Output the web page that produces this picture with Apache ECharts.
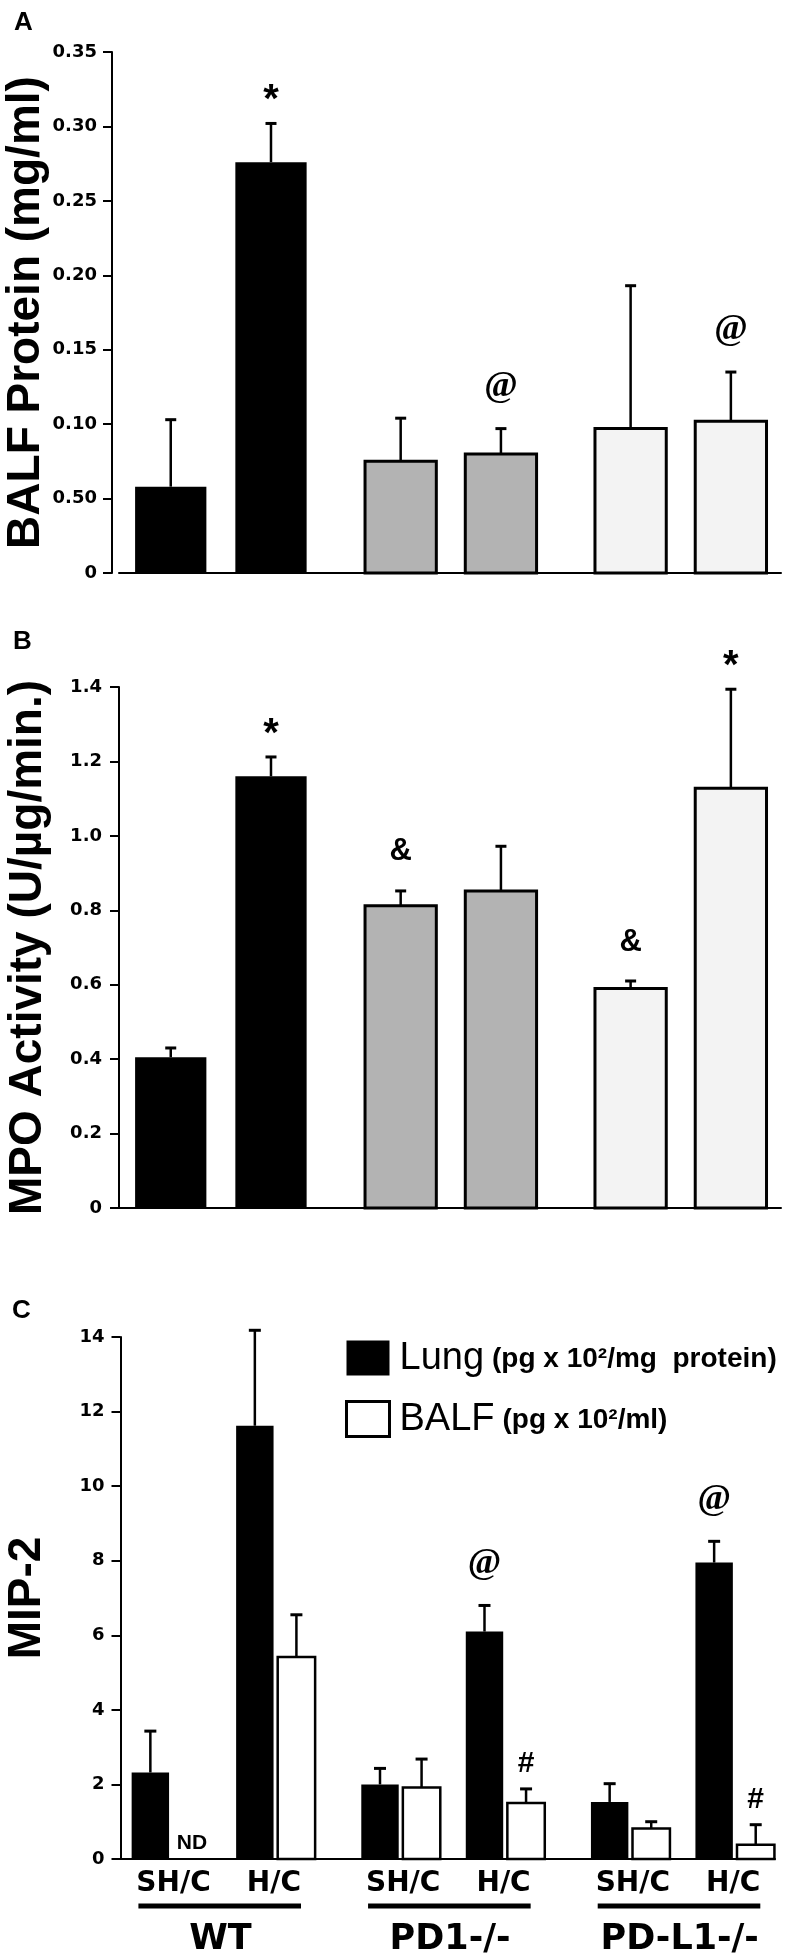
<!DOCTYPE html>
<html><head><meta charset="utf-8">
<script src="https://cdn.jsdelivr.net/npm/echarts@6/dist/echarts.min.js"></script>
<style>html,body{margin:0;padding:0;background:#fff}#chart{width:786px;height:1959px}</style>
</head><body><div id="chart"></div>
<script>
// ---------------- data ----------------
const groups = ['WT', 'PD1-/-', 'PD-L1-/-'];
const conditions = ['SH/C', 'H/C'];

// Panel A: BALF protein (mg/ml); order: WT SH/C, WT H/C, PD1 SH/C, PD1 H/C, PD-L1 SH/C, PD-L1 H/C
const proteinMean = [0.058, 0.276, 0.075, 0.080, 0.097, 0.102];
const proteinSem  = [0.045, 0.026, 0.029, 0.017, 0.096, 0.033];
const proteinMarks = ['', '*', '', '@', '', '@'];
const proteinTicks = ['0', '0.50', '0.10', '0.15', '0.20', '0.25', '0.30', '0.35'];

// Panel B: MPO activity (U/µg/min.)
const mpoMean = [0.405, 1.160, 0.812, 0.852, 0.590, 1.128];
const mpoSem  = [0.025, 0.052, 0.040, 0.120, 0.020, 0.266];
const mpoMarks = ['', '*', '&', '', '&', '*'];
const mpoTicks = ['0', '0.2', '0.4', '0.6', '0.8', '1.0', '1.2', '1.4'];

// Panel C: MIP-2; order: WT SH/C, WT H/C, PD1 SH/C, PD1 H/C, PD-L1 SH/C, PD-L1 H/C
const lungMean = [2.32, 11.62, 2.00, 6.10, 1.53, 7.95];
const lungSem  = [1.11, 2.56, 0.43, 0.70, 0.49, 0.57];
const lungMarks = ['', '', '', '@', '', '@'];
const balfMean = [null, 5.42, 1.92, 1.50, 0.82, 0.38];
const balfSem  = [null, 1.13, 0.76, 0.38, 0.18, 0.54];
const balfMarks = ['ND', '', '', '#', '', '#'];
const mipTicks = ['0', '2', '4', '6', '8', '10', '12', '14'];

const measures = ['Lung', 'BALF'];
const measureUnits = ['(pg x 10²/mg  protein)', '(pg x 10²/ml)'];

// ---------------- styles ----------------
const SANS = 'Liberation Sans';
const WIDE = 'DejaVu Sans';
const genotypeFill = ['#000000', '#b3b3b3', '#f3f3f3'];
const measureFill = ['#000000', '#ffffff'];
const markStyle = {
  '*': {family: SANS, size: 40, lift: 22},
  '@': {family: 'Liberation Serif', size: 36, lift: 42},
  '&': {family: SANS, size: 31, lift: 39},
  '#': {family: SANS, size: 30, lift: 25}
};

function markText(ch, x, yTop) {
  const s = markStyle[ch];
  return {type: 'text', x: x, y: yTop - s.lift, z2: 5,
    style: {text: ch, fill: '#000', fontFamily: s.family, fontWeight: 'bold', fontSize: s.size,
            align: 'center', verticalAlign: 'middle'}};
}

function barGroup(api, xc, m, s, widthData, fill, border, capHalf) {
  const base = api.coord([xc, 0]);
  const top = api.coord([xc, m]);
  const et = api.coord([xc, m + s]);
  const w = api.size([widthData, 0])[0];
  return [
    {type: 'line', shape: {x1: top[0], y1: top[1], x2: et[0], y2: et[1]}, style: {stroke: '#000', lineWidth: 2.5}},
    {type: 'line', shape: {x1: et[0] - capHalf, y1: et[1], x2: et[0] + capHalf, y2: et[1]}, style: {stroke: '#000', lineWidth: 3}},
    {type: 'rect', shape: {x: base[0] - w / 2, y: top[1], width: w, height: base[1] - top[1]},
     style: {fill: fill, stroke: border > 0 ? '#000' : null, lineWidth: border}}
  ];
}

// Panels A & B: two bars (SH/C, H/C) per genotype
const PAIR_OFF = 0.218, BAR_W_AB = 0.31;
function pairedSeries(idx, mean, sem, marks) {
  return {
    type: 'custom', name: 'panel' + idx, xAxisIndex: idx, yAxisIndex: idx, clip: false,
    encode: {x: 0, y: 2},
    data: mean.map((m, i) => [Math.floor(i / 2), i % 2, m, sem[i]]),
    renderItem(params, api) {
      const g = api.value(0), c = api.value(1), m = api.value(2), s = api.value(3);
      const xc = g + (c === 0 ? -PAIR_OFF : PAIR_OFF);
      const ch = barGroup(api, xc, m, s, BAR_W_AB, genotypeFill[g], g === 0 ? 0 : 3, 5.5);
      const mk = marks[params.dataIndex];
      if (mk) { const et = api.coord([xc, m + s]); ch.push(markText(mk, et[0], et[1])); }
      return {type: 'group', children: ch};
    }
  };
}

// Panel C: Lung & BALF bars, SH/C and H/C per genotype
const COND_OFF = 0.2275, MEAS_OFF = 0.0905, BAR_W_C = 0.163;
function mipSeries(meas, mean, sem, marks) {
  return {
    type: 'custom', name: measures[meas], xAxisIndex: 2, yAxisIndex: 2, clip: false,
    itemStyle: {color: measureFill[meas], borderColor: '#000'},
    encode: {x: 0, y: 2},
    data: mean.map((m, i) => [Math.floor(i / 2), i % 2, m == null ? '-' : m, m == null ? '-' : sem[i]]),
    renderItem(params, api) {
      const g = api.value(0), c = api.value(1), m = api.value(2), s = api.value(3);
      const xc = g + (c === 0 ? -COND_OFF : COND_OFF) + (meas === 0 ? -MEAS_OFF : MEAS_OFF);
      const mk = marks[params.dataIndex];
      if (isNaN(m)) {
        const b = api.coord([xc, 0]);
        return {type: 'text', x: b[0], y: b[1] - 16,
          style: {text: mk, fill: '#000', fontFamily: SANS, fontWeight: 'bold', fontSize: 21, align: 'center', verticalAlign: 'middle'}};
      }
      const ch = barGroup(api, xc, m, s, BAR_W_C, measureFill[meas], meas === 0 ? 0 : 2.5, 6);
      if (mk) { const et = api.coord([xc, m + s]); ch.push(markText(mk, et[0], et[1])); }
      return {type: 'group', children: ch};
    }
  };
}

// Panel C category labels below the axis
const labelSeries = {
  type: 'custom', name: 'labels', xAxisIndex: 2, yAxisIndex: 2, clip: false, silent: true,
  data: groups.map((g, i) => [i, 0]),
  renderItem(params, api) {
    const g = api.value(0);
    const p = api.coord([g, 0]);
    const xs = api.coord([g - 0.217, 0])[0], xh = api.coord([g + 0.22, 0])[0];
    const u1 = api.coord([g - 0.37, 0])[0], u2 = api.coord([g + 0.338, 0])[0];
    const t = (txt, x, y, size) => ({type: 'text', x: x, y: y,
      style: {text: txt, fill: '#000', fontFamily: WIDE, fontWeight: 'bold', fontSize: size, align: 'center', verticalAlign: 'middle'}});
    return {type: 'group', children: [
      t(conditions[0], xs, p[1] + 25, 28),
      t(conditions[1], xh, p[1] + 25, 28),
      {type: 'rect', shape: {x: u1, y: p[1] + 44.5, width: u2 - u1, height: 5}, style: {fill: '#000'}},
      t(groups[g], p[0] - 3, p[1] + 81, 35)
    ]};
  }
};

function xAxisCfg(idx, min, max) {
  return {gridIndex: idx, type: 'value', min: min, max: max,
    axisLine: {show: true, onZero: false, lineStyle: {color: '#000', width: 2}},
    axisTick: {show: false}, axisLabel: {show: false}, splitLine: {show: false}};
}
function yAxisCfg(idx, max, interval, labels, name, nameGap, offset, margin) {
  return {gridIndex: idx, type: 'value', min: 0, max: max, interval: interval, offset: offset, position: 'left',
    axisLine: {show: true, onZero: false, lineStyle: {color: '#000', width: 2}},
    axisTick: {show: true, inside: false, length: 9, lineStyle: {color: '#000', width: 2}},
    splitLine: {show: false},
    axisLabel: {margin: margin, color: '#000', fontFamily: WIDE, fontWeight: 'bold', fontSize: 18,
      formatter: v => labels[Math.round(v / interval)]},
    name: name, nameLocation: 'middle', nameRotate: 90, nameGap: nameGap, nameMoveOverlap: false,
    nameTextStyle: {color: '#000', fontFamily: SANS, fontWeight: 'bold', fontSize: 46}};
}

const chart = echarts.init(document.getElementById('chart'), null, {renderer: 'canvas'});
chart.setOption({
  backgroundColor: '#fff',
  animation: false,
  title: [
    {text: 'A', left: 9, top: 5, textStyle: {fontFamily: SANS, fontWeight: 'bold', fontSize: 26, color: '#000'}},
    {text: 'B', left: 8, top: 624, textStyle: {fontFamily: SANS, fontWeight: 'bold', fontSize: 26, color: '#000'}},
    {text: 'C', left: 7, top: 1293, textStyle: {fontFamily: SANS, fontWeight: 'bold', fontSize: 26, color: '#000'}}
  ],
  legend: {
    orient: 'vertical', left: 340, top: 1335, itemWidth: 43, itemHeight: 35, itemGap: 22,
    selectedMode: false, icon: 'rect',
    data: [
      {name: measures[0], itemStyle: {color: measureFill[0], borderWidth: 0}},
      {name: measures[1], itemStyle: {color: measureFill[1], borderColor: '#000', borderWidth: 3}}
    ],
    formatter: name => '{big|' + name + '}{small|' + measureUnits[measures.indexOf(name)] + '}',
    textStyle: {rich: {
      big: {fontFamily: SANS, fontSize: 38, color: '#000', padding: [0, 8, 0, 5], verticalAlign: 'bottom', lineHeight: 40},
      small: {fontFamily: SANS, fontWeight: 'bold', fontSize: 28, color: '#000', verticalAlign: 'bottom', lineHeight: 40, padding: [0, 0, 5, 0]}
    }}
  },
  grid: [
    {left: 119, right: 5, top: 52, height: 521, outerBoundsMode: 'none', containLabel: false},
    {left: 119, right: 5, top: 687, height: 521, outerBoundsMode: 'none', containLabel: false},
    {left: 120.5, right: 11, top: 1337, height: 522, outerBoundsMode: 'none', containLabel: false}
  ],
  xAxis: [xAxisCfg(0, -0.443, 2.436), xAxisCfg(1, -0.443, 2.436), xAxisCfg(2, -0.448, 2.402)],
  yAxis: [
    yAxisCfg(0, 0.35, 0.05, proteinTicks, 'BALF Protein (mg/ml)', 63, 7, 15),
    yAxisCfg(1, 1.4, 0.2, mpoTicks, 'MPO Activity (U/µg/min.)', 68, 0, 17),
    yAxisCfg(2, 14, 2, mipTicks, 'MIP-2', 70, 0, 16)
  ],
  series: [
    pairedSeries(0, proteinMean, proteinSem, proteinMarks),
    pairedSeries(1, mpoMean, mpoSem, mpoMarks),
    mipSeries(0, lungMean, lungSem, lungMarks),
    mipSeries(1, balfMean, balfSem, balfMarks),
    labelSeries
  ]
});
</script></body></html>
